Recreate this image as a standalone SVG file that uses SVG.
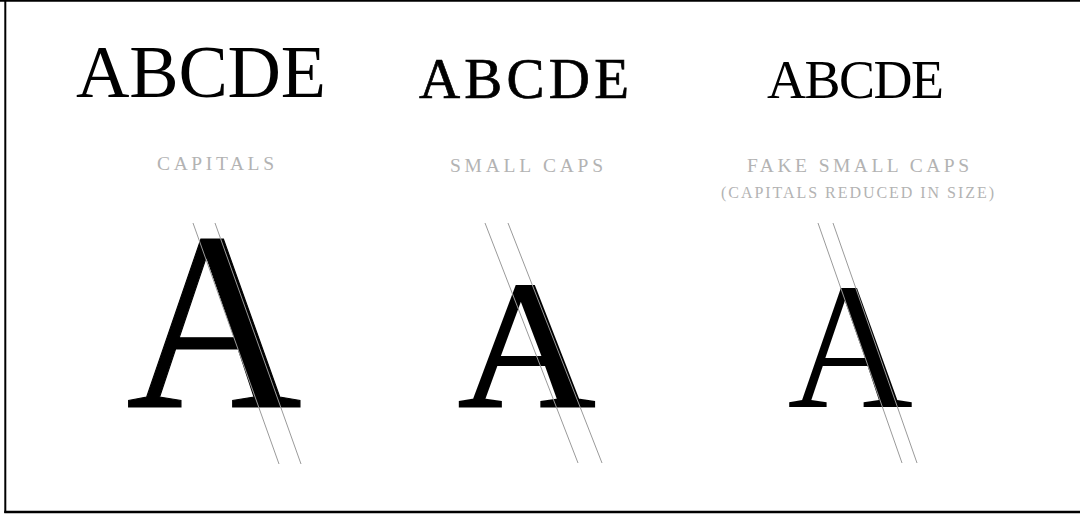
<svg xmlns="http://www.w3.org/2000/svg" width="1080" height="515" viewBox="0 0 1080 515">
<style>
.serif{font-family:"Liberation Serif","Times New Roman",serif;}
.head{fill:#000;}
.label{fill:#b3b3b3;font-size:19.5px;}
.sub{fill:#b3b3b3;font-size:16px;}
.big{fill:#000;}
.guide{stroke:#9a9a9a;stroke-width:1;fill:none;}
.frame{stroke:#000;fill:none;}
</style>
<rect width="1080" height="515" fill="#fff"/>
<g id="frame">
<line class="frame" x1="0" y1="0.8" x2="1080" y2="0.8" stroke-width="1.7"/>
<line class="frame" x1="5.3" y1="0" x2="5.3" y2="513" stroke-width="2"/>
<line class="frame" x1="4.3" y1="512" x2="1080" y2="512" stroke-width="2.5"/>
</g>
<g id="capitals">
<text class="serif head" x="76" y="97" font-size="74" textLength="250" lengthAdjust="spacing">ABCDE</text>
<text class="serif label" x="157" y="170" textLength="117" lengthAdjust="spacing">CAPITALS</text>
<text class="serif big" transform="translate(126.3,406.5) scale(0.957,1)" font-size="254" stroke="#000" stroke-width="1.2">A</text>
</g>
<g id="small-caps">
<text class="serif head" x="419" y="98" font-size="57" stroke="#000" stroke-width="0.7" textLength="210" lengthAdjust="spacing">ABCDE</text>
<text class="serif label" x="450" y="172" textLength="153" lengthAdjust="spacing">SMALL CAPS</text>
<text class="serif big" transform="translate(458,406.5) scale(1.04,1)" font-size="183" stroke="#000" stroke-width="2">A</text>
</g>
<g id="fake-small-caps">
<text class="serif head" x="767" y="98" font-size="54" textLength="177" lengthAdjust="spacing">ABCDE</text>
<text class="serif label" x="747" y="172" textLength="222" lengthAdjust="spacing">FAKE SMALL CAPS</text>
<text class="serif sub" x="721" y="198" textLength="273" lengthAdjust="spacing">(CAPITALS REDUCED IN SIZE)</text>
<text class="serif big" transform="translate(787.4,407) scale(0.96,1)" font-size="181">A</text>
</g>
<g id="connectors">
<line class="guide" x1="193" y1="223" x2="279" y2="464"/>
<line class="guide" x1="215" y1="223" x2="301" y2="464"/>
<line class="guide" x1="485" y1="223" x2="578" y2="463"/>
<line class="guide" x1="508" y1="223" x2="602" y2="463"/>
<line class="guide" x1="818" y1="223" x2="902" y2="463"/>
<line class="guide" x1="833" y1="223" x2="917" y2="463"/>
</g>
</svg>
